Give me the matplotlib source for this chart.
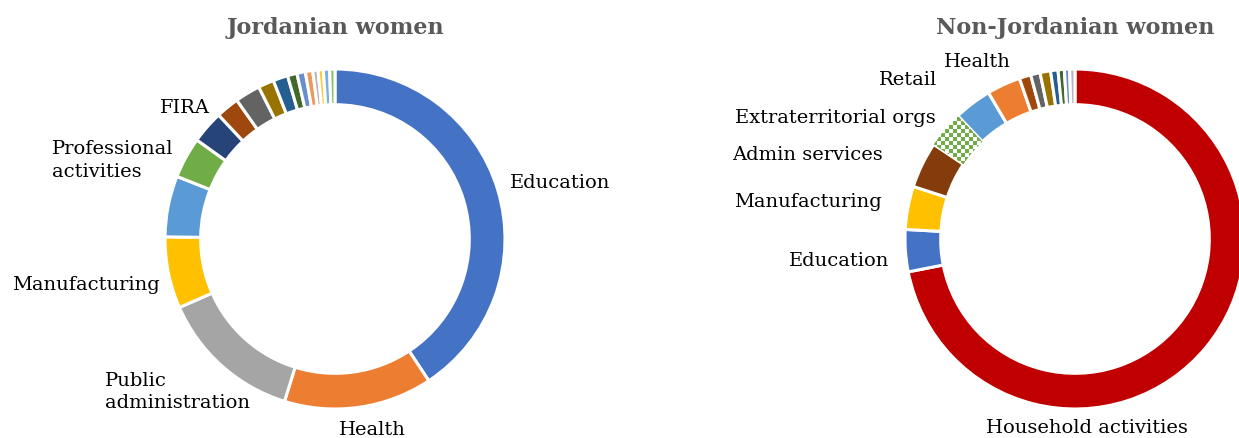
import numpy as np
import matplotlib
matplotlib.use("Agg")
import matplotlib.pyplot as plt
from matplotlib.colors import ListedColormap

plt.rcParams['font.family'] = ['DejaVu Serif']

# ---- data (shares, %) ----
jor_labels = ["Education", "Health", "Public\nadministration", "Manufacturing", "",
              "Professional\nactivities", "FIRA", "", "", "", "", "", "", "", "", "", "", ""]
jor_values = [40.7, 14.1, 13.6, 6.8, 5.8, 3.9, 3.1, 2.2, 2.4, 1.5, 1.4, 0.9, 0.8, 0.7, 0.5, 0.5, 0.6, 0.5]
jor_colors = ["#4472C4", "#ED7D31", "#A5A5A5", "#FFC000", "#5B9BD5", "#70AD47", "#264478",
              "#9E480E", "#636363", "#997300", "#255E91", "#43682B", "#698ED0", "#F1975A",
              "#B7B7B7", "#FFCD33", "#7CAFDD", "#8CC168"]

non_labels = ["Household activities", "Education", "Manufacturing", "Admin services",
              "Extraterritorial orgs", "Retail", "Health", "", "", "", "", "", "", ""]
non_values = [71.9, 4.0, 4.1, 4.4, 3.5, 3.6, 3.2, 1.1, 0.9, 1.0, 0.7, 0.6, 0.5, 0.5]
non_colors = ["#C00000", "#4472C4", "#FFC000", "#843C0C", "#70AD47", "#5B9BD5", "#ED7D31",
              "#9E480E", "#636363", "#997300", "#255E91", "#43682B", "#698ED0", "#B7B7B7"]

# label placement (data coords, ha)
jor_label_pos = {
    "Education": (1.03, 0.335, "left"),
    "Health": (0.22, -1.12, "center"),
    "Public\nadministration": (-1.353, -0.894, "left"),
    "Manufacturing": (-1.03, -0.265, "right"),
    "Professional\nactivities": (-1.665, 0.47, "left"),
    "FIRA": (-0.735, 0.776, "right"),
}
non_label_pos = {
    "Household activities": (0.07, -1.106, "center"),
    "Education": (-1.09, -0.124, "right"),
    "Manufacturing": (-1.135, 0.224, "right"),
    "Admin services": (-1.13, 0.50, "right"),
    "Extraterritorial orgs": (-0.82, 0.72, "right"),
    "Retail": (-0.81, 0.94, "right"),
    "Health": (-0.576, 1.047, "center"),
}

W, H = 1239, 439
fig = plt.figure(figsize=(W / 100, H / 100), dpi=100)
R = 170


def make_ax(cx, cy):
    return fig.add_axes([(cx - R) / W, (H - cy - R) / H, 2 * R / W, 2 * R / H])


def donut(ax, values, colors, labels, pos, title):
    wedges, _ = ax.pie(values, colors=colors, startangle=90, counterclock=False,
                       radius=1, wedgeprops=dict(width=0.21, edgecolor="white", linewidth=2.2))
    for lab in labels:
        if lab in pos:
            x, y, ha = pos[lab]
            ax.text(x, y, lab, ha=ha, va="center", fontsize=14, color="#000000",
                    linespacing=1.35)
    ax.set_title(title, fontsize=16, fontweight="bold", color="#595959", pad=26)
    return wedges


ax1 = make_ax(335, 240)
donut(ax1, jor_values, jor_colors, jor_labels, jor_label_pos, "Jordanian women")

ax2 = make_ax(1075, 240)
w2 = donut(ax2, non_values, non_colors, non_labels, non_label_pos, "Non-Jordanian women")

# checkerboard fill for Extraterritorial orgs
chk = w2[non_labels.index("Extraterritorial orgs")]
chk.set_facecolor("white")
n = 85
ii, jj = np.indices((n, n))
board = ((ii + jj) % 2).astype(float)
im = ax2.imshow(board, extent=(-1, 1, -1, 1), cmap=ListedColormap(["white", "#70AD47"]),
                interpolation="nearest", zorder=chk.get_zorder() + 0.1)
im.set_clip_path(chk)

for ax in (ax1, ax2):
    ax.set_xlim(-1, 1)
    ax.set_ylim(-1, 1)
    ax.set_aspect("equal")
    ax.axis("off")

fig.savefig("out.png", dpi=100)
